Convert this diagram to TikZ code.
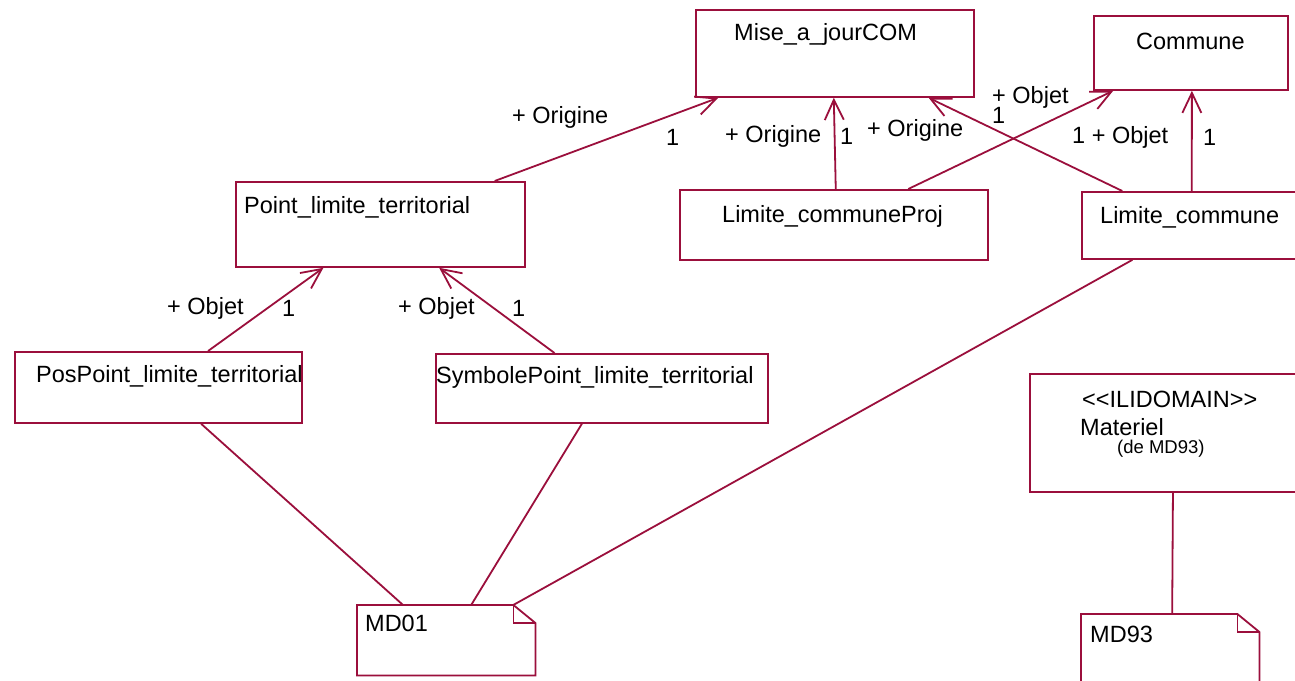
\documentclass[tikz,border=0pt]{standalone}
\usepackage{fontspec}
\setmainfont{Liberation Sans}
\usetikzlibrary{arrows.meta,calc}
\definecolor{umlred}{RGB}{155,15,60}
\tikzset{
  uml/.style={draw=umlred, line width=1.8pt},
  box/.style={uml, rectangle, inner sep=0pt, anchor=north west},
  area/.style={rectangle, inner sep=0pt, anchor=north west},
  txt/.style={inner sep=0pt, anchor=west, text=black, font=\fontsize{23.5}{26}\selectfont},
  small/.style={txt, font=\fontsize{18.5}{21}\selectfont},
  link/.style={uml},
  nav/.style={uml, -{Straight Barb[length=20pt,width=19pt]}},
}
\begin{document}
\begin{tikzpicture}[x=1pt,y=-1pt]
\clip (0,0) rectangle (1295,680);
\fill[white] (0,0) rectangle (1295,680);

% classes
\node[box, minimum width=278, minimum height=87] (mise) at (695,9) {};
\node[box, minimum width=194, minimum height=74] (commune) at (1093,15) {};
\node[box, minimum width=289, minimum height=85] (ptl) at (235,181) {};
\node[box, minimum width=308, minimum height=70] (lcp) at (679,189) {};
\node[box, minimum width=229, minimum height=67] (lc) at (1081,191) {};
\node[box, minimum width=287, minimum height=71] (pos) at (14,351) {};
\node[box, minimum width=332, minimum height=69] (sym) at (435,353) {};
\node[box, minimum width=281, minimum height=118] (ilid) at (1029,373) {};

% packages drawn as notes with a folded corner
\node[area, minimum width=178, minimum height=70] (md01) at (357,605) {};
\node[area, minimum width=178, minimum height=76] (md93) at (1081,614) {};
\foreach \n in {md01,md93}{
  \draw[uml, line join=miter] (\n.north west) -- ($(\n.north east)+(-22,0)$)
    -- ($(\n.north east)+(0,18)$) -- (\n.south east) -- (\n.south west) -- cycle;
  \draw[uml, line join=miter] ($(\n.north east)+(-22,0)$) -- ($(\n.north east)+(-22,18)$)
    -- ($(\n.north east)+(0,18)$);
}

% class names
\node[txt] (miseT) at (734,34) {Mise\_a\_jourCOM};
\node[txt] (communeT) at (1136,41) {Commune};
\node[txt] (ptlT) at (244,207) {Point\_limite\_territorial};
\node[txt] (lcpT) at (722,216) {Limite\_communeProj};
\node[txt] (lcT) at (1100,217) {Limite\_commune};
\node[txt] (posT) at (36,376) {PosPoint\_limite\_territorial};
\node[txt] (symT) at (436,377) {SymbolePoint\_limite\_territorial};
\node[txt] (ilidT) at (1082,399) {<\kern0pt<ILIDOMAIN>\kern0pt>};
\node[txt] (matT) at (1080,427) {Materiel};
\node[small] (deT) at (1117,449) {(de MD93)};
\node[txt] (md01T) at (365,623) {MD01};
\node[txt] (md93T) at (1090,634) {MD93};

% associations
\draw[nav] ($(ptl.north west)!0.893!(ptl.north east)$) -- ($(mise.south west)!0.083!(mise.south east)$);
\draw[nav] ($(lcp.north west)!0.506!(lcp.north east)$) -- ($(mise.south west)!0.496!(mise.south east)$);
\draw[nav] ($(lc.north west)!0.179!(lc.north east)$) -- ($(mise.south west)!0.835!(mise.south east)$);
\draw[nav] ($(lcp.north west)!0.740!(lcp.north east)$) -- ($(commune.south west)!0.103!(commune.south east)$);
\draw[nav] ($(lc.north west)!0.480!(lc.north east)$) -- ($(commune.south west)!0.505!(commune.south east)$);
\draw[nav] ($(pos.north west)!0.672!(pos.north east)$) -- ($(ptl.south west)!0.304!(ptl.south east)$);
\draw[nav] ($(sym.north west)!0.358!(sym.north east)$) -- ($(ptl.south west)!0.702!(ptl.south east)$);

% package membership
\draw[link] ($(pos.south west)!0.648!(pos.south east)$) -- ($(md01.north west)!0.258!(md01.north east)$);
\draw[link] ($(sym.south west)!0.440!(sym.south east)$) -- ($(md01.north west)!0.640!(md01.north east)$);
\draw[link] ($(lc.south west)!0.223!(lc.south east)$) -- ($(md01.north west)!0.876!(md01.north east)$);
\draw[link] ($(ilid.south west)!0.509!(ilid.south east)$) -- ($(md93.north west)!0.511!(md93.north east)$);

% role names and multiplicities
\node[txt] (r1) at (512,117) {+ Origine};
\node[txt] (m1) at (666,137) {1};
\node[txt] (r2) at (725,136) {+ Origine};
\node[txt] (m2) at (840,136) {1};
\node[txt] (r3) at (867,130) {+ Origine};
\node[txt] (r4) at (992,97) {+ Objet};
\node[txt] (m4) at (992,115) {1};
\node[txt] (r5) at (1072,137) {1 + Objet};
\node[txt] (m5) at (1203,137) {1};
\node[txt] (r6) at (167,308) {+ Objet};
\node[txt] (m6) at (282,308) {1};
\node[txt] (r7) at (398,308) {+ Objet};
\node[txt] (m7) at (512,308) {1};
\end{tikzpicture}
\end{document}
